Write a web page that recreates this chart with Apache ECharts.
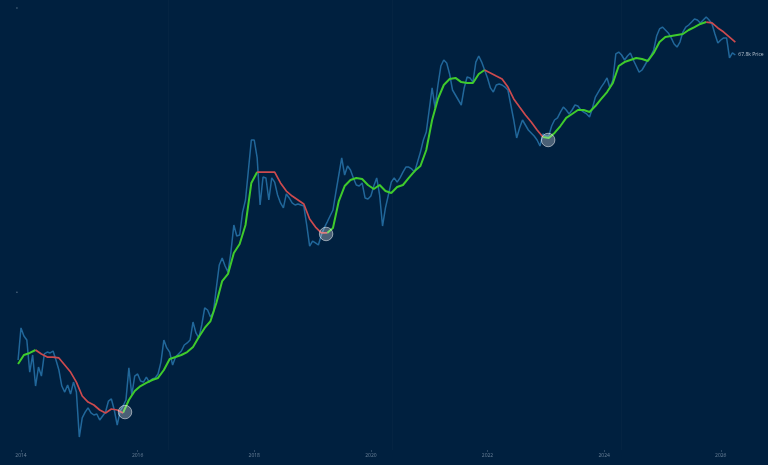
<!DOCTYPE html>
<html>
<head>
<meta charset="utf-8">
<style>
html, body { margin: 0; padding: 0; background: #00203f; }
#chart { width: 768px; height: 465px; filter: blur(0.45px); }
</style>
<script src="https://cdn.jsdelivr.net/npm/echarts@6/dist/echarts.min.js"></script>
</head>
<body>
<div id="chart"></div>
<script>
// all series are log10(price)
const startYear = 2013.95
const priceStep = 0.05
const maStep = 0.1

const priceLog = [
  2.756, 2.974, 2.919, 2.892, 2.674, 2.790, 2.579, 2.708, 2.647, 2.797,
  2.810, 2.804, 2.817, 2.756, 2.688, 2.579, 2.538, 2.586, 2.525, 2.606,
  2.538, 2.232, 2.362, 2.402, 2.430, 2.396, 2.382, 2.389, 2.348, 2.375,
  2.402, 2.477, 2.491, 2.416, 2.314, 2.409, 2.443, 2.484, 2.702, 2.518,
  2.647, 2.661, 2.613, 2.606, 2.640, 2.606, 2.627, 2.634, 2.661, 2.742,
  2.892, 2.838, 2.810, 2.722, 2.776, 2.797, 2.817, 2.858, 2.872, 2.892,
  3.014, 2.940, 2.906, 2.994, 3.110, 3.096, 3.048, 3.082, 3.246, 3.402,
  3.450, 3.395, 3.354, 3.490, 3.674, 3.599, 3.606, 3.762, 3.844, 4.048,
  4.252, 4.252, 4.130, 3.810, 4.000, 3.994, 3.844, 3.994, 3.966, 3.878,
  3.824, 3.790, 3.885, 3.858, 3.824, 3.810, 3.817, 3.810, 3.803, 3.674,
  3.531, 3.565, 3.552, 3.538, 3.606, 3.654, 3.694, 3.735, 3.776, 3.898,
  4.014, 4.130, 4.014, 4.075, 4.048, 3.994, 3.946, 3.939, 3.960, 3.858,
  3.851, 3.871, 3.939, 3.994, 3.878, 3.667, 3.790, 3.878, 3.966, 3.994,
  3.966, 3.994, 4.034, 4.068, 4.068, 4.055, 4.034, 4.102, 4.170, 4.252,
  4.306, 4.456, 4.606, 4.470, 4.626, 4.755, 4.796, 4.776, 4.701, 4.592,
  4.558, 4.524, 4.490, 4.606, 4.680, 4.674, 4.646, 4.782, 4.823, 4.782,
  4.728, 4.674, 4.606, 4.578, 4.626, 4.633, 4.626, 4.612, 4.592, 4.490,
  4.388, 4.266, 4.334, 4.388, 4.354, 4.320, 4.300, 4.279, 4.252, 4.211,
  4.293, 4.279, 4.279, 4.347, 4.388, 4.402, 4.442, 4.476, 4.456, 4.429,
  4.456, 4.490, 4.483, 4.456, 4.442, 4.429, 4.408, 4.470, 4.544, 4.578,
  4.612, 4.640, 4.674, 4.606, 4.660, 4.837, 4.850, 4.830, 4.796, 4.823,
  4.844, 4.796, 4.755, 4.714, 4.728, 4.762, 4.796, 4.823, 4.864, 4.959,
  5.007, 5.020, 5.000, 4.980, 4.946, 4.905, 4.884, 4.918, 4.986, 5.020,
  5.034, 5.054, 5.075, 5.068, 5.048, 5.068, 5.088, 5.068, 5.041, 4.973,
  4.912, 4.932, 4.946, 4.946, 4.810, 4.844, 4.830
]

const maLog = [
  2.729, 2.790, 2.804, 2.824, 2.797, 2.776, 2.776, 2.770, 2.722, 2.674,
  2.606, 2.511, 2.470, 2.450, 2.416, 2.396, 2.423, 2.416, 2.396, 2.484,
  2.545, 2.579, 2.600, 2.620, 2.634, 2.688, 2.763, 2.776, 2.790, 2.810,
  2.844, 2.912, 2.974, 3.021, 3.144, 3.293, 3.341, 3.484, 3.545, 3.674,
  3.960, 4.034, 4.034, 4.034, 4.034, 3.960, 3.905, 3.871, 3.844, 3.817,
  3.715, 3.660, 3.620, 3.620, 3.654, 3.837, 3.939, 3.980, 3.994, 3.987,
  3.946, 3.919, 3.946, 3.905, 3.892, 3.932, 3.946, 3.994, 4.041, 4.075,
  4.184, 4.388, 4.531, 4.626, 4.667, 4.674, 4.646, 4.640, 4.640, 4.701,
  4.728, 4.708, 4.687, 4.667, 4.612, 4.531, 4.476, 4.422, 4.374, 4.320,
  4.272, 4.266, 4.300, 4.347, 4.402, 4.429, 4.456, 4.456, 4.442, 4.483,
  4.531, 4.578, 4.640, 4.755, 4.782, 4.796, 4.810, 4.803, 4.789, 4.844,
  4.918, 4.952, 4.959, 4.966, 4.973, 5.000, 5.020, 5.041, 5.054, 5.048,
  5.014, 4.986, 4.952, 4.918
]

// stretches where the average is falling (drawn red)
const fallingRanges = [[2014.25, 2015.75], [2018.05, 2019.25], [2021.95, 2022.95], [2025.75, 2026.25]]

const bottomYears = [2015.784, 2019.232, 2023.04]
const bottomLog = [2.402, 3.613, 4.252]

const halvings = [2016.52, 2020.36, 2024.3]
const yearTicks = [2014, 2016, 2018, 2020, 2022, 2024, 2026]
const sideMarks = [1650, 141000]

const lastLabel = '67.8k Price'

const toPrice = v => Math.pow(10, v)
const priceData = priceLog.map((v, i) => [startYear + i * priceStep, toPrice(v)])
const isFalling = y => fallingRanges.some(r => y >= r[0] - 1e-6 && y <= r[1] + 1e-6)
const isInside = y => fallingRanges.some(r => y > r[0] + 1e-6 && y < r[1] - 1e-6)
const maData = maLog.map((v, i) => [startYear + i * maStep, toPrice(v)])
const maGreen = maData.map(d => isInside(d[0]) ? [d[0], null] : d)
const maRed = maData.map(d => isFalling(d[0]) ? d : [d[0], null])

var myChart = echarts.init(document.getElementById('chart'))

var option = {
  animation: false,
  backgroundColor: '#00203f',
  grid: { left: 0, right: 0, top: 0, bottom: 15 },
  xAxis: {
    type: 'value',
    min: 2013.64,
    max: 2026.81,
    splitLine: { show: false },
    axisLine: { show: false },
    axisTick: { show: true, length: 2, customValues: yearTicks, lineStyle: { color: '#4d6680', width: 0.6 } },
    axisLabel: {
      customValues: yearTicks,
      formatter: v => String(v),
      color: '#6a8299',
      fontSize: 5,
      margin: 3,
      fontFamily: 'Open Sans'
    }
  },
  yAxis: {
    type: 'log',
    logBase: 10,
    min: toPrice(2.144),
    max: toPrice(5.204),
    show: false
  },
  series: [
    {
      name: 'Price',
      type: 'line',
      data: priceData,
      showSymbol: false,
      lineStyle: { color: '#2f86c2', width: 1.5, opacity: 0.7 },
      endLabel: {
        show: true,
        formatter: lastLabel,
        color: '#b4c2cf',
        fontSize: 5,
        distance: 3,
        fontFamily: 'Open Sans'
      },
      markLine: {
        silent: true,
        symbol: 'none',
        label: { show: false },
        lineStyle: { color: 'rgba(255,255,255,0.018)', type: 'solid', width: 1 },
        data: halvings.map(h => ({ xAxis: h }))
      },
      z: 2
    },
    {
      name: 'MA rising',
      type: 'line',
      data: maGreen,
      showSymbol: false,
      lineStyle: { color: '#3fcb2c', width: 2 },
      z: 3
    },
    {
      name: 'MA falling',
      type: 'line',
      data: maRed,
      showSymbol: false,
      lineStyle: { color: '#cc4a4e', width: 1.7 },
      z: 3
    },
    {
      name: 'Bottoms',
      type: 'scatter',
      data: bottomYears.map((y, i) => [y, toPrice(bottomLog[i])]),
      symbolSize: 13.5,
      itemStyle: { color: 'rgba(255,255,255,0.36)', borderColor: 'rgba(255,255,255,0.65)', borderWidth: 1 },
      z: 4
    },
    {
      name: 'Side marks',
      type: 'scatter',
      data: sideMarks.map(p => [2013.93, p]),
      symbolSize: 1.5,
      itemStyle: { color: '#6f869c' },
      z: 2
    }
  ]
}

myChart.setOption(option)
</script>
</body>
</html>
